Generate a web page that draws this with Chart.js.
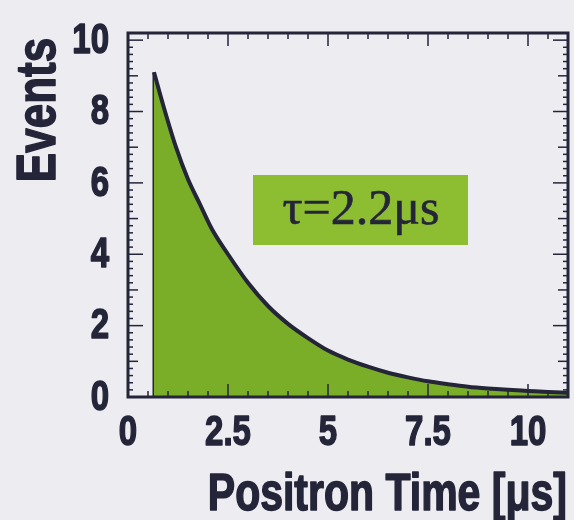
<!DOCTYPE html>
<html>
<head>
<meta charset="utf-8">
<script src="https://cdn.jsdelivr.net/npm/chart.js@4"></script>
<style>
  html, body { margin: 0; padding: 0; background: #ececf1; }
  #wrap { width: 574px; height: 520px; }
</style>
</head>
<body>
<div id="wrap"><canvas id="decayChart" width="574" height="520"></canvas></div>
<script>
// Values
const times  = [0.65, 0.9, 1.2, 1.5, 1.8, 2.1, 2.5, 3.0, 3.5, 4.0, 4.5, 5.0, 5.5, 6.0, 6.5, 7.0, 7.5, 8.0, 8.5, 9.0, 9.5, 10.0, 10.5, 11.0];
const events = [9.1, 8.1, 7.0, 6.1, 5.4, 4.7, 4.0, 3.2, 2.55, 2.05, 1.65, 1.3, 1.05, 0.85, 0.68, 0.55, 0.44, 0.36, 0.29, 0.24, 0.2, 0.17, 0.14, 0.12];
const xTicks = [0, 2.5, 5, 7.5, 10];
const yTicks = [0, 2, 4, 6, 8, 10];
const xTitle = 'Positron Time [μs]';
const yTitle = 'Events';
const lifetimeLabel = 'τ=2.2μs';

const INK = '#25253a';
const GREEN = '#7aae29';
const BOX_GREEN = '#8dbd30';
const SANS = '"Liberation Sans", Arial, sans-serif';
const STRETCH = 1.28;

// text squeezed like the original figure (tall, heavy letters)
const drawText = (ctx, text, x, y, font, align, baseline, rotate) => {
    ctx.save();
    ctx.font = font;
    ctx.fillStyle = INK;
    ctx.strokeStyle = INK;
    ctx.lineWidth = 1.2;
    ctx.lineJoin = 'round';
    ctx.textAlign = align;
    ctx.textBaseline = baseline;
    ctx.translate(x, y);
    if (rotate) ctx.rotate(-Math.PI / 2);
    ctx.scale(1, STRETCH);
    ctx.fillText(text, 0, 0);
    ctx.strokeText(text, 0, 0);
    ctx.restore();
};

const line = (ctx, x1, y1, x2, y2) => {
    ctx.beginPath();
    ctx.moveTo(x1, y1);
    ctx.lineTo(x2, y2);
    ctx.stroke();
};

const framePlugin = {
    id: 'frame',
    afterDatasetsDraw(chart) {
        const { ctx, chartArea: a, scales: { x, y } } = chart;
        ctx.save();
        ctx.strokeStyle = INK;
        ctx.lineWidth = 1.5;

        // inward ticks, x axis (bottom + top)
        for (let i = 0; i <= 22; i++) {
            const px = x.getPixelForValue(i * 0.5);
            const len = i % 5 === 0 ? 13 : 6;
            line(ctx, px, a.bottom, px, a.bottom - len);
            line(ctx, px, a.top, px, a.top + len);
        }
        // inward ticks, y axis (left + right)
        for (let i = 0; i <= 51; i++) {
            const py = y.getPixelForValue(i * 0.2);
            const len = i % 10 === 0 ? 15 : (i % 5 === 0 ? 10 : 5);
            line(ctx, a.left, py, a.left + len, py);
            line(ctx, a.right, py, a.right - len, py);
        }

        // frame
        ctx.lineWidth = 3;
        ctx.strokeRect(a.left, a.top, a.right - a.left, a.bottom - a.top);
        ctx.restore();

        // lifetime label box
        ctx.save();
        ctx.fillStyle = BOX_GREEN;
        ctx.fillRect(a.left + 125, a.top + 142, 215, 70);
        ctx.fillStyle = INK;
        ctx.strokeStyle = INK;
        ctx.lineWidth = 0.6;
        ctx.font = '50px "Liberation Serif", "Times New Roman", serif';
        ctx.textAlign = 'center';
        ctx.textBaseline = 'middle';
        ctx.fillText(lifetimeLabel, a.left + 233, a.top + 178);
        ctx.strokeText(lifetimeLabel, a.left + 233, a.top + 178);
        ctx.restore();

        // tick labels
        const tickFont = `bold 33px ${SANS}`;
        xTicks.forEach(v => drawText(ctx, String(v), x.getPixelForValue(v), a.bottom + 36, tickFont, 'center', 'middle'));
        yTicks.forEach(v => drawText(ctx, String(v), a.left - 19, y.getPixelForValue(v) + 1, tickFont, 'right', 'middle'));

        // axis titles
        drawText(ctx, xTitle, 567, 510, `bold 41px ${SANS}`, 'right', 'alphabetic');
        drawText(ctx, yTitle, 55, 110, `bold 44px ${SANS}`, 'center', 'alphabetic', true);
    }
};

const ctx = document.getElementById('decayChart').getContext('2d');
const decayChart = new Chart(ctx, {
    type: 'line',
    data: {
        datasets: [{
            data: times.map((t, i) => ({ x: t, y: events[i] })),
            borderColor: INK,
            borderWidth: 4,
            backgroundColor: GREEN,
            fill: 'origin',
            pointRadius: 0,
            cubicInterpolationMode: 'monotone'
        }, {
            // left edge of the filled histogram
            data: [{ x: times[0], y: 0 }, { x: times[0], y: events[0] }],
            borderColor: INK,
            borderWidth: 3,
            pointRadius: 0,
            fill: false
        }]
    },
    options: {
        responsive: false,
        animation: false,
        layout: { padding: { left: 128, top: 33, right: 6, bottom: 123 } },
        plugins: { legend: { display: false }, tooltip: { enabled: false } },
        scales: {
            x: { type: 'linear', min: 0, max: 11, display: false },
            y: { type: 'linear', min: 0, max: 10.2, display: false }
        }
    },
    plugins: [framePlugin]
});
</script>
</body>
</html>
